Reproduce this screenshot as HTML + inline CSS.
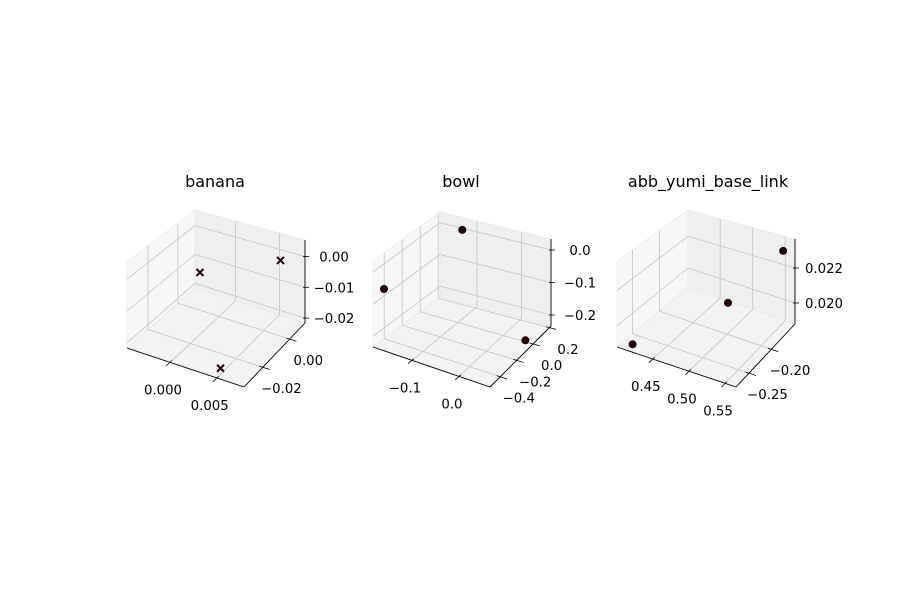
<!DOCTYPE html>
<html><head><meta charset="utf-8"><style>
html,body{margin:0;padding:0;background:#fff;}
svg{display:block;font-family:"DejaVu Sans","Liberation Sans",sans-serif;}
</style></head><body>
<svg id="fig" width="901" height="589" viewBox="0 0 901 589" xmlns="http://www.w3.org/2000/svg">
<rect x="0" y="0" width="901" height="589" fill="#ffffff"/>
</svg>
<script>
// ---- data ----
const titles = ["banana", "bowl", "abb_yumi_base_link"];
const markers = ["x", "o", "o"];
const bananaX = [-0.0037, 0.0073, 0.0051];
const bananaY = [0.0094, -0.0028, -0.032];
const bananaZ = [-0.0145, 0.0041, -0.0194];
const bowlX = [-0.171, -0.110, 0.054];
const bowlY = [-0.465, 0.103, -0.026];
const bowlZ = [-0.060, 0.028, -0.221];
const abbX = [0.417, 0.509, 0.562];
const abbY = [-0.272, -0.211, -0.169];
const abbZ = [0.0190, 0.0210, 0.0235];
const bananaXTicks = [0.000, 0.005];
const bananaYTicks = [-0.02, 0.00];
const bananaZTicks = [-0.02, -0.01, 0.00];
const bowlXTicks = [-0.1, 0.0];
const bowlYTicks = [-0.4, -0.2, 0.0, 0.2];
const bowlZTicks = [-0.2, -0.1, 0.0];
const abbXTicks = [0.45, 0.50, 0.55];
const abbYTicks = [-0.25, -0.20];
const abbZTicks = [0.020, 0.022];
const bananaXLabels = ["0.000", "0.005"];
const bananaYLabels = ["\u22120.02", "0.00"];
const bananaZLabels = ["\u22120.02", "\u22120.01", "0.00"];
const bowlXLabels = ["\u22120.1", "0.0"];
const bowlYLabels = ["\u22120.4", "\u22120.2", "0.0", "0.2"];
const bowlZLabels = ["\u22120.2", "\u22120.1", "0.0"];
const abbXLabels = ["0.45", "0.50", "0.55"];
const abbYLabels = ["\u22120.25", "\u22120.20"];
const abbZLabels = ["0.020", "0.022"];

// ---- layout (axis limits and projected box corners) ----
const panels = [
  {lim:[-0.0046,0.0079,-0.034,0.0114,-0.0216,0.0054], tx:215,
   c:{"000":[127,348],"100":[244,387],"110":[305,323],"010":[195,288],"001":[127,262],"101":[244,297],"111":[305,240],"011":[195,210]},
   X:bananaX,Y:bananaY,Z:bananaZ,xt:bananaXTicks,yt:bananaYTicks,zt:bananaZTicks,xl:bananaXLabels,yl:bananaYLabels,zl:bananaZLabels},
  {lim:[-0.183,0.066,-0.525,0.22,-0.234,0.034], tx:461,
   c:{"000":[373,347],"100":[490,387],"110":[551,326],"010":[440,297],"001":[373,261],"101":[490,297],"111":[551,239],"011":[440,212]},
   X:bowlX,Y:bowlY,Z:bowlZ,xt:bowlXTicks,yt:bowlYTicks,zt:bowlZTicks,xl:bowlXLabels,yl:bowlYLabels,zl:bowlZLabels},
  {lim:[0.4005,0.565,-0.279,-0.147,0.0188,0.02366], tx:708,
   c:{"000":[617,347],"100":[736,387],"110":[795,324],"010":[688,287],"001":[617,261],"101":[736,297],"111":[795,239],"011":[688,210]},
   X:abbX,Y:abbY,Z:abbZ,xt:abbXTicks,yt:abbYTicks,zt:abbZTicks,xl:abbXLabels,yl:abbYLabels,zl:abbZLabels}
];
const NS = "http://www.w3.org/2000/svg";
const svg = document.getElementById("fig");
function mk(tag, attrs, parent){
  const e = document.createElementNS(NS, tag);
  for (const k in attrs) e.setAttribute(k, attrs[k]);
  (parent||svg).appendChild(e);
  return e;
}
function projF(p, fx, fy, fz){
  const c = p.c; let x=0, y=0;
  for (const i of [0,1]) for (const j of [0,1]) for (const k of [0,1]){
    const w = (i?fx:1-fx)*(j?fy:1-fy)*(k?fz:1-fz);
    const q = c[""+i+j+k];
    x += w*q[0]; y += w*q[1];
  }
  return [x,y];
}
function fr(p, v, a){ const l=p.lim; return (v-l[2*a])/(l[2*a+1]-l[2*a]); }
function line(g, a, b, stroke, w){
  return mk("line",{x1:a[0].toFixed(1),y1:a[1].toFixed(1),x2:b[0].toFixed(1),y2:b[1].toFixed(1),stroke:stroke,"stroke-width":w},g);
}
function poly(g, pts, fill){
  return mk("polygon",{points:pts.map(q=>q[0].toFixed(1)+","+q[1].toFixed(1)).join(" "),fill:fill,stroke:"#e6e6e6","stroke-width":0.6},g);
}
panels.forEach((p, pi) => {
  const g = mk("g",{});
  
  
  const P = (a,b,c)=>projF(p,a,b,c);
  const floor = poly(g,[P(0,0,0),P(1,0,0),P(1,1,0),P(0,1,0)],"#f3f3f3");
  
  
  const left = poly(g,[P(0,0,0),P(0,1,0),P(0,1,1),P(0,0,1)],"#f7f7f7");
  
  
  const back = poly(g,[P(0,1,0),P(1,1,0),P(1,1,1),P(0,1,1)],"#efefef");
  
  
  const gc = "#c4c4c4";
  p.xt.forEach(v=>{ const f=fr(p,v,0);
    const l1=line(g,P(f,0,0),P(f,1,0),gc,0.8);  
    const l2=line(g,P(f,1,0),P(f,1,1),gc,0.8);   });
  p.yt.forEach(v=>{ const f=fr(p,v,1);
    const l1=line(g,P(0,f,0),P(1,f,0),gc,0.8);  
    const l2=line(g,P(0,f,0),P(0,f,1),gc,0.8);   });
  p.zt.forEach(v=>{ const f=fr(p,v,2);
    const l1=line(g,P(0,0,f),P(0,1,f),gc,0.8);  
    const l2=line(g,P(0,1,f),P(1,1,f),gc,0.8);   });
  const ax = line(g,P(0,0,0),P(1,0,0),"#000",0.9);  
  const ay = line(g,P(1,0,0),P(1,1,0),"#000",0.9);  
  const az = line(g,P(1,1,0),P(1,1,1),"#000",0.9);  
  p.xt.forEach((v,i)=>{ const f=fr(p,v,0); const a=P(f,0.03,0), b=P(f,-0.06,0);
    const t=line(g,a,b,"#000",0.8);  
    const tx=mk("text",{x:(a[0]-9).toFixed(1),y:(a[1]+34).toFixed(1),"font-size":"13.3","text-anchor":"middle",fill:"#000"},g);
    tx.textContent=p.xl[i];   });
  p.yt.forEach((v,i)=>{ const f=fr(p,v,1); const a=P(0.97,f,0), b=P(1.06,f,0);
    const t=line(g,a,b,"#000",0.8);  
    const tx=mk("text",{x:(a[0]+22).toFixed(1),y:(a[1]+27).toFixed(1),"font-size":"13.3","text-anchor":"middle",fill:"#000"},g);
    tx.textContent=p.yl[i];   });
  p.zt.forEach((v,i)=>{ const f=fr(p,v,2); const a=P(1,1,f);
    const t=line(g,[a[0]-2,a[1]],[a[0]+4,a[1]],"#000",0.8);  
    const tx=mk("text",{x:(a[0]+29).toFixed(1),y:(a[1]+5).toFixed(1),"font-size":"13.3","text-anchor":"middle",fill:"#000"},g);
    tx.textContent=p.zl[i];   });
  p.X.forEach((xv,i)=>{
    const q = P(fr(p,xv,0), fr(p,p.Y[i],1), fr(p,p.Z[i],2));
    let m;
    if (markers[pi]==="x"){
      m = mk("path",{d:`M${q[0]-3.5},${q[1]-3.5}L${q[0]+3.5},${q[1]+3.5}M${q[0]-3.5},${q[1]+3.5}L${q[0]+3.5},${q[1]-3.5}`,stroke:"#1e0303","stroke-width":2},g);
    } else {
      m = mk("circle",{cx:q[0].toFixed(1),cy:q[1].toFixed(1),r:4,fill:"#1e0303"},g);
    }
    
    
  });
  const t = mk("text",{x:p.tx,y:187,"font-size":"16","text-anchor":"middle",fill:"#000"},g);
  t.textContent = titles[pi];
  
  
});
</script>
</body></html>
